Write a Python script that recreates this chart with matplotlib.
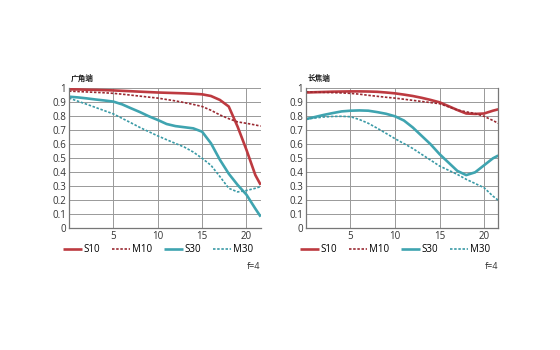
import matplotlib
matplotlib.use("Agg")
import matplotlib.pyplot as plt

plt.rcParams['font.family'] = ['Open Sans', 'Noto Sans CJK SC', 'DejaVu Sans']

# ---- data ----
x_left = [0, 1, 2, 3, 4, 5, 6, 7, 8, 9, 10, 11, 12, 13, 14, 15, 16, 17, 18, 19, 20, 21, 21.6]
s10_left = [0.993, 0.992, 0.99, 0.989, 0.987, 0.985, 0.982, 0.979, 0.976, 0.973, 0.970, 0.968, 0.966, 0.964, 0.961, 0.957, 0.945, 0.917, 0.87, 0.726, 0.56, 0.38, 0.31]
m10_left = [0.98, 0.977, 0.974, 0.971, 0.968, 0.964, 0.958, 0.951, 0.944, 0.937, 0.93, 0.92, 0.91, 0.898, 0.885, 0.87, 0.843, 0.81, 0.783, 0.76, 0.75, 0.738, 0.73]
s30_left = [0.94, 0.935, 0.928, 0.92, 0.913, 0.905, 0.885, 0.857, 0.83, 0.80, 0.774, 0.745, 0.73, 0.722, 0.714, 0.69, 0.607, 0.49, 0.39, 0.31, 0.24, 0.14, 0.083]
m30_left = [0.93, 0.908, 0.886, 0.863, 0.84, 0.817, 0.785, 0.753, 0.72, 0.69, 0.66, 0.633, 0.606, 0.58, 0.545, 0.5, 0.45, 0.37, 0.286, 0.26, 0.27, 0.286, 0.298]

x_right = [0, 1, 2, 3, 4, 5, 6, 7, 8, 9, 10, 11, 12, 13, 14, 15, 16, 17, 18, 19, 20, 21, 21.6]
s10_right = [0.97, 0.972, 0.974, 0.976, 0.977, 0.978, 0.978, 0.977, 0.975, 0.97, 0.964, 0.955, 0.945, 0.932, 0.917, 0.9, 0.873, 0.845, 0.82, 0.817, 0.82, 0.84, 0.85]
m10_right = [0.975, 0.973, 0.971, 0.969, 0.967, 0.964, 0.958, 0.95, 0.943, 0.936, 0.93, 0.922, 0.914, 0.906, 0.898, 0.89, 0.868, 0.845, 0.832, 0.82, 0.8, 0.77, 0.75]
s30_right = [0.78, 0.795, 0.81, 0.823, 0.835, 0.84, 0.842, 0.84, 0.83, 0.818, 0.80, 0.77, 0.72, 0.66, 0.60, 0.53, 0.47, 0.41, 0.38, 0.40, 0.45, 0.50, 0.52]
m30_right = [0.78, 0.788, 0.795, 0.799, 0.80, 0.797, 0.777, 0.75, 0.715, 0.678, 0.64, 0.605, 0.57, 0.528, 0.487, 0.445, 0.415, 0.385, 0.35, 0.32, 0.29, 0.23, 0.20]

y_ticks = [0, 0.1, 0.2, 0.3, 0.4, 0.5, 0.6, 0.7, 0.8, 0.9, 1]
y_tick_labels = ["0", "0.1", "0.2", "0.3", "0.4", "0.5", "0.6", "0.7", "0.8", "0.9", "1"]
x_ticks = [5, 10, 15, 20]
x_tick_labels = ["5", "10", "15", "20"]
series_names = ["S10", "M10", "S30", "M30"]
titles = ["广角端", "长焦端"]
aperture = "f=4"

RED = "#bd3a40"
RED_D = "#9a2a32"
TEAL = "#3fa4b0"
TEAL_D = "#3a9aa6"

fig = plt.figure(figsize=(5.6, 3.5), dpi=100)
axes_pos = [[0.1232, 0.3477, 0.3423, 0.40], [0.5464, 0.3477, 0.3434, 0.40]]
panels = [
    (x_left, [s10_left, m10_left, s30_left, m30_left], False),
    (x_right, [s10_right, m10_right, s30_right, m30_right], True),
]

for i, (pos, (xs, ys, right_spine)) in enumerate(zip(axes_pos, panels)):
    ax = fig.add_axes(pos)
    styles = [
        dict(color=RED, lw=1.9, ls='-'),
        dict(color=RED_D, lw=1.2, ls=(0, (1.5, 1))),
        dict(color=TEAL, lw=1.9, ls='-'),
        dict(color=TEAL_D, lw=1.2, ls=(0, (1.5, 1))),
    ]
    handles = []
    for y, name, st in zip(ys, series_names, styles):
        h, = ax.plot(xs, y, label=name, solid_capstyle='butt', **st)
        handles.append(h)
    ax.set_xlim(0, 21.6)
    ax.set_ylim(0, 1)
    ax.set_yticks(y_ticks)
    ax.set_yticklabels(y_tick_labels)
    ax.set_xticks(x_ticks)
    ax.set_xticklabels(x_tick_labels)
    ax.tick_params(length=0, labelsize=7, pad=2, colors="#333333")
    ax.grid(True, color="#999999", lw=0.7)
    ax.set_axisbelow(True)
    for s in ['top', 'right']:
        ax.spines[s].set_visible(False)
    if right_spine:
        ax.spines['right'].set_visible(True)
    for s in ['left', 'bottom', 'right']:
        ax.spines[s].set_color("#777777")
        ax.spines[s].set_linewidth(0.9)
    ax.text(0.01, 1.04, titles[i], transform=ax.transAxes, fontsize=5.5,
            fontweight='bold', family=['Noto Sans CJK SC', 'DejaVu Sans'],
            ha='left', va='bottom', color="#222222")
    ax.legend(handles=handles, loc='upper left', bbox_to_anchor=(-0.03, -0.115),
              ncol=4, frameon=False, fontsize=7, handlelength=1.9,
              handletextpad=0.15, columnspacing=1.25, borderaxespad=0,
              borderpad=0)
    ax.text(1.0, -0.24, aperture, transform=ax.transAxes, fontsize=6.5,
            ha='right', va='top', color="#333333")

fig.savefig("out.png", dpi=100, facecolor='white')
